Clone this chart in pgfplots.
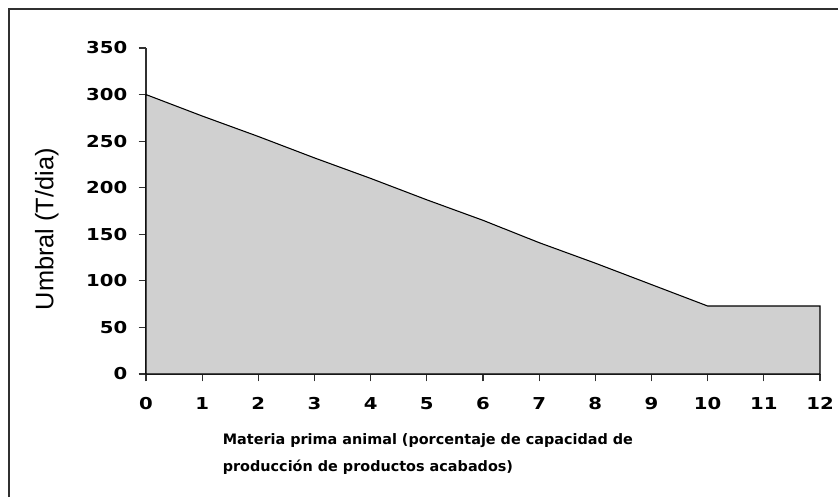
\documentclass[border=0pt]{standalone}
\usepackage{fontspec}
\setmainfont{DejaVu Sans}
\newfontfamily\lsans{Liberation Sans}
\newfontfamily\tickfont[FakeStretch=1.2]{DejaVu Sans}
\usepackage{pgfplots}
\pgfplotsset{compat=1.18}
\definecolor{areagray}{HTML}{D0D0D0}
\definecolor{axgray}{HTML}{303030}
\begin{document}
\begin{tikzpicture}
\useasboundingbox (0pt,0pt) rectangle (628.5pt,372.75pt);
\draw[axgray, line width=1.5pt] (6.75pt,0pt) -- (6.75pt,366pt) -- (628.5pt,366pt);
\begin{axis}[
  at={(109.5pt,92.25pt)}, anchor=origin,
  scale only axis,
  width=505.5pt, height=244.5pt,
  xmin=0, xmax=12, ymin=0, ymax=350,
  axis x line=bottom, axis y line=left,
  axis line style={-, axgray, line width=1.1pt},
  xtick={0,...,12}, ytick={0,50,...,350},
  tick align=outside, major tick length=5.5pt,
  tick style={axgray, line width=0.9pt},
  /pgf/number format/assume math mode=true,
  ticklabel style={font=\tickfont\bfseries\fontsize{12.3}{14}\selectfont, black},
  xticklabel style={yshift=-8.5pt},
  yticklabel style={xshift=-5pt},
  ylabel={Umbral (T/dia)},
  every axis y label/.style={at={(axis description cs:-0.147,0.444)}, rotate=90, anchor=center, font=\lsans\fontsize{19}{22}\selectfont},
  xlabel={Materia prima animal (porcentaje de capacidad de\\producción de productos acabados)},
  every axis x label/.style={at={(axis description cs:0.107,0)}, anchor=north west, yshift=-41pt, align=left, font=\bfseries\fontsize{10.8}{20.5}\selectfont},
  clip=false,
]
\addplot[fill=areagray, draw=black, line width=0.8pt] coordinates {
(0,300) (1,277) (2,255) (3,232) (4,210) (5,187) (6,165) (7,141) (8,119) (9,96) (10,73) (11,73) (12,73)
} \closedcycle;
\end{axis}
\end{tikzpicture}
\end{document}
